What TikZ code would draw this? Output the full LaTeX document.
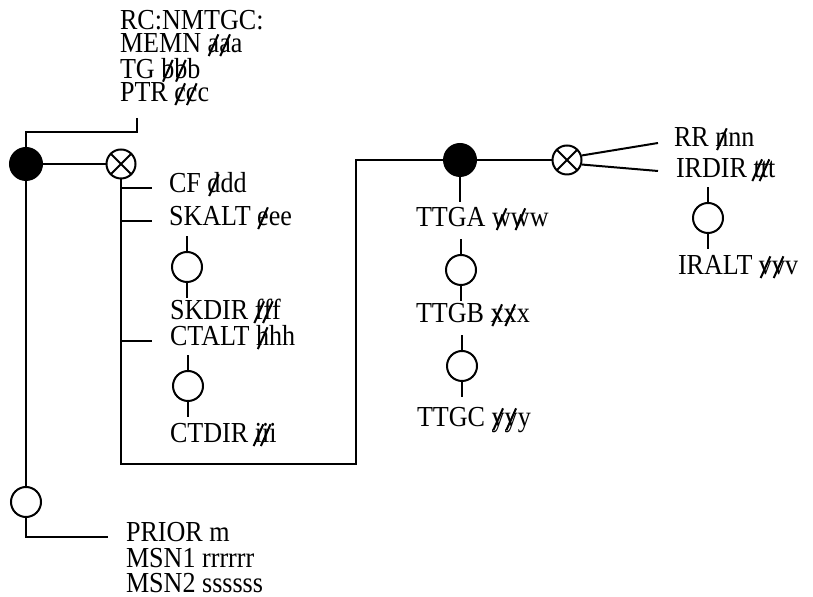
\documentclass[tikz,border=0pt]{standalone}
\usepackage{fontspec}
\setmainfont{Liberation Serif}[FakeStretch=0.9]
\usepackage{tikz}
\usetikzlibrary{positioning}

% letter with a stroke through it
\newcommand{\strk}[1]{\ooalign{#1\cr\hidewidth\raisebox{-0.12em}{\rotatebox{66}{\rule{0.82em}{0.07em}}}\hidewidth}}

\begin{document}
\begin{tikzpicture}[x=0.5pt,y=-0.5pt,line width=1pt,
    lbl/.style={anchor=base west,inner sep=0pt,font=\fontsize{14.5}{14}\selectfont},
    fulljn/.style={circle,draw,fill=black,minimum size=16pt,inner sep=0pt},
    openjn/.style={circle,draw,fill=white,minimum size=15pt,inner sep=0pt},
    crossjn/.style={circle,draw,minimum size=14.5pt,inner sep=0pt,
        path picture={\draw (path picture bounding box.north west) -- (path picture bounding box.south east)
                            (path picture bounding box.north east) -- (path picture bounding box.south west);}}]
  \useasboundingbox (0,0) rectangle (813,597);

  % Testo in alto
  \node[lbl,align=left,font=\fontsize{14.5}{11.7}\selectfont] (rc) at (119,102)
    {RC:NMTGC:\\MEMN \strk{a}\strk{a}a\\TG \strk{b}\strk{b}b\\PTR \strk{c}\strk{c}c};
  \coordinate (ptrtap) at (137,118);

  % Nodi di giunzione
  \node[fulljn] (jmain) at (26,164) {};
  \node[crossjn] (xleft) at (121,164) {};
  \node[fulljn] (jmid) at (460,160) {};
  \node[crossjn] (xright) at (567,160) {};

  % Ramo sinistro
  \node[lbl] (cf) at (168,193) {CF \strk{d}dd};
  \node[lbl] (skalt) at (168,226) {SKALT \strk{e}ee};
  \node[openjn] (opn1) at (187,267) {};
  \node[lbl] (skdir) at (169,320) {SKDIR \strk{f}\strk{f}f};
  \node[lbl] (ctalt) at (169,346) {CTALT \strk{h}hh};
  \node[openjn] (opn2) at (188,386) {};
  \node[lbl] (ctdir) at (169,443) {CTDIR \strk{i}\strk{i}i};

  % Ramo centrale
  \node[lbl] (ttga) at (415,227) {TTGA \strk{w}\strk{w}w};
  \node[openjn] (opn3) at (461,270) {};
  \node[lbl] (ttgb) at (415,323) {TTGB \strk{x}\strk{x}x};
  \node[openjn] (opn4) at (462,366) {};
  \node[lbl] (ttgc) at (416,427) {TTGC \strk{y}\strk{y}y};

  % Ramo destro
  \node[lbl] (rr) at (673,147) {RR \strk{n}nn};
  \node[lbl] (irdir) at (675,178) {IRDIR \strk{t}\strk{t}t};
  \node[openjn] (opn5) at (708,218) {};
  \node[lbl] (iralt) at (677,275) {IRALT \strk{v}\strk{v}v};
  \coordinate (rrtap) at (658,143);
  \coordinate (irtap) at (658,171);

  % In basso
  \node[openjn] (opn6) at (26,502) {};
  \node[lbl,align=left,font=\fontsize{14.5}{12.75}\selectfont] (prior) at (125,593)
    {PRIOR m\\MSN1 rrrrrr\\MSN2 ssssss};
  \coordinate (priortap) at (108,537);
  \coordinate (loopcorner) at (356,464);

  % Collegamenti
  \draw (ptrtap) -- ++(0,14) -| (jmain.north);
  \draw (jmain) -- (xleft);
  \draw (xleft.south) |- (loopcorner) |- (jmid.west);
  \draw (jmid) -- (xright);
  \draw (jmid.south) -- ++(0,25);
  \draw (xright.17) -- (rrtap);
  \draw (xright.-17) -- (irtap);
  \draw (jmain.south) -- (opn6.north);
  \draw (opn6.south) |- (priortap);

  % Tacche verso le etichette
  \foreach \lb in {cf,skalt,ctalt}
    \draw (xleft |- \lb.base west) ++(0,-4.5) -- ++(31,0);

  % Gambi dei cerchi aperti
  \foreach \c in {opn1,opn2,opn3,opn4,opn5}
    \draw (\c.north) -- ++(0,-15) (\c.south) -- ++(0,15);
\end{tikzpicture}
\end{document}
